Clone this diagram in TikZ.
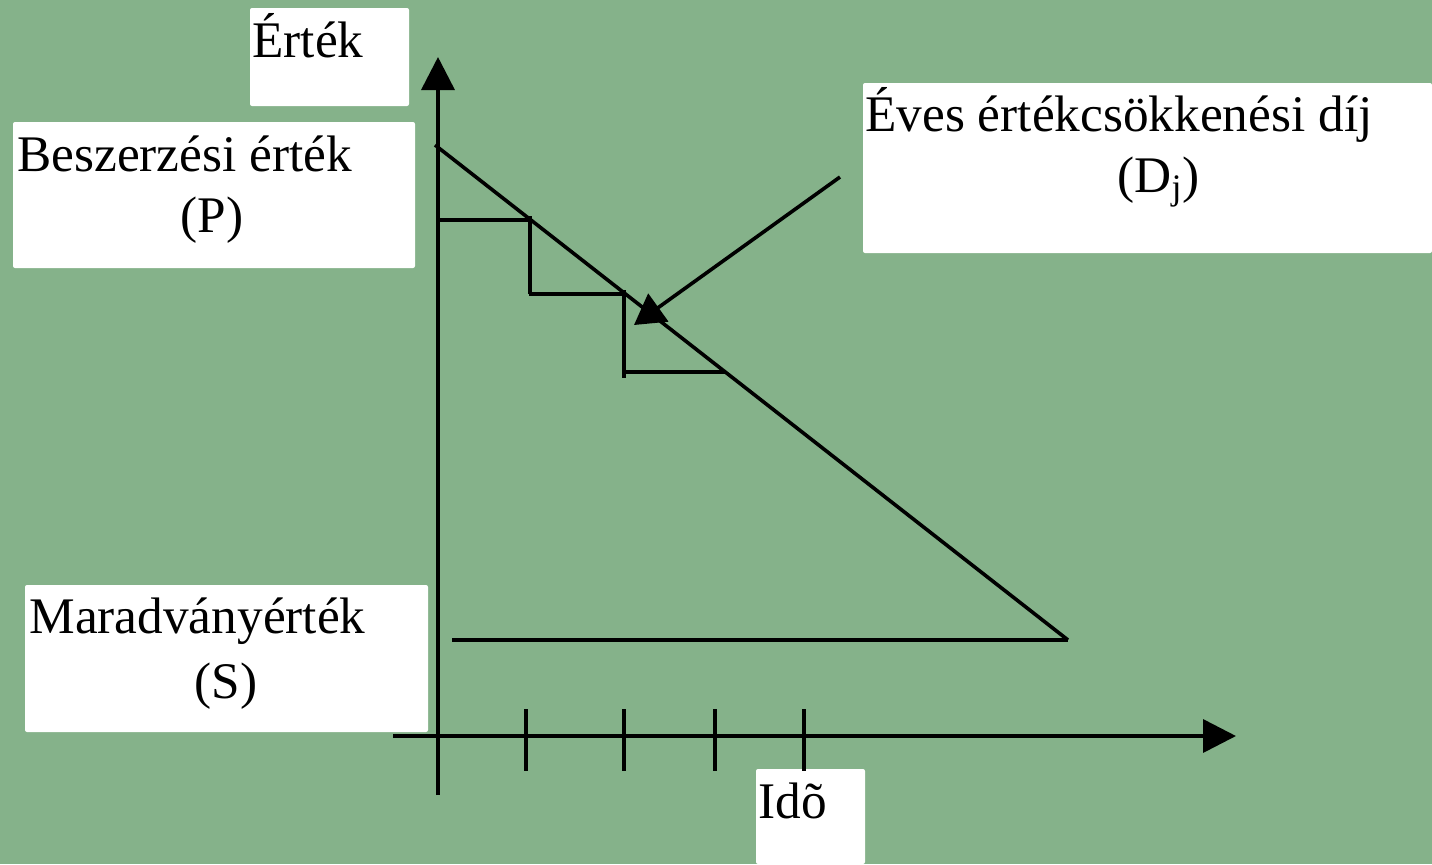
\documentclass[tikz,border=0pt]{standalone}
\usepackage{fontspec}
\setmainfont{Liberation Serif}
\usetikzlibrary{arrows.meta}
\definecolor{bg}{RGB}{133,178,138}
\begin{document}
\begin{tikzpicture}[x=0.5pt,y=-0.5pt,
  lbl/.style={inner sep=0pt, font=\fontsize{25.65}{29}\selectfont},
  boxfill/.style={fill=white, rounded corners=1pt},
  ln/.style={line width=1.8pt},
  axtip/.style={-{Triangle[length=16.5pt,width=16.5pt]}},
  ptrtip/.style={-{Triangle[length=15pt,width=17pt]}}]
\fill[bg] (0,0) rectangle (1432,864);
\useasboundingbox (0,0) rectangle (1432,864);
% label boxes
\fill[boxfill] (250,8) rectangle (409,106);
\fill[boxfill] (13,122) rectangle (415,268);
\fill[boxfill] (863,83) rectangle (1432,253);
\fill[boxfill] (25,585) rectangle (428,732);
\fill[boxfill] (756,769) rectangle (865,864);
% texts
\node[lbl, anchor=base west] (ertek) at (252,57) {Érték};
\node[lbl, anchor=base west] (besz) at (17,171) {Beszerzési érték};
\node[lbl, anchor=base] (P) at (212,232) {(P)};
\node[lbl, anchor=base west] (eves) at (865,131) {Éves értékcsökkenési díj};
\node[lbl, anchor=base west] (Dj) at (1117,192) {(D\textsubscript{j})};
\node[lbl, anchor=base west] (marad) at (29,633) {Maradványérték};
\node[lbl, anchor=base] (S) at (226,698) {(S)};
\node[lbl, anchor=base west] (ido) at (758,818) {Idõ};
% axes
\coordinate (yb) at (438,795);
\coordinate (yt) at (438,57);
\coordinate (xl) at (393,736);
\coordinate (xr) at (1236,736);
\draw[ln, axtip] (yb) -- (yt);
\draw[ln, axtip] (xl) -- (xr);
% ticks
\foreach \t in {526,624,715,804} {
  \coordinate (t\t a) at (\t,709);
  \coordinate (t\t b) at (\t,771);
  \draw[ln] (t\t a) -- (t\t b);
}
% depreciation line and salvage level
\coordinate (Pstart) at (435,145);
\coordinate (Send) at (1068,640);
\coordinate (Sstart) at (452,640);
\draw[ln] (Pstart) -- (Send);
\draw[ln] (Sstart) -- (Send);
% steps
\coordinate (s1) at (438,220);
\coordinate (s2) at (530,220);
\coordinate (s2b) at (530,216);
\coordinate (s3) at (530,294);
\coordinate (s3b) at (529,294);
\coordinate (s4) at (624,294);
\coordinate (s4b) at (624,290);
\coordinate (s5) at (624,378);
\coordinate (s6) at (624,372);
\coordinate (s7) at (725,372);
\draw[ln] (s1) -- (s2);
\draw[ln] (s2b) -- (s3);
\draw[ln] (s3b) -- (s4);
\draw[ln] (s4b) -- (s5);
\draw[ln] (s6) -- (s7);
% pointer arrow
\coordinate (pfrom) at (840,177);
\coordinate (pto) at (634,325);
\draw[ln, ptrtip] (pfrom) -- (pto);
\end{tikzpicture}
\end{document}
